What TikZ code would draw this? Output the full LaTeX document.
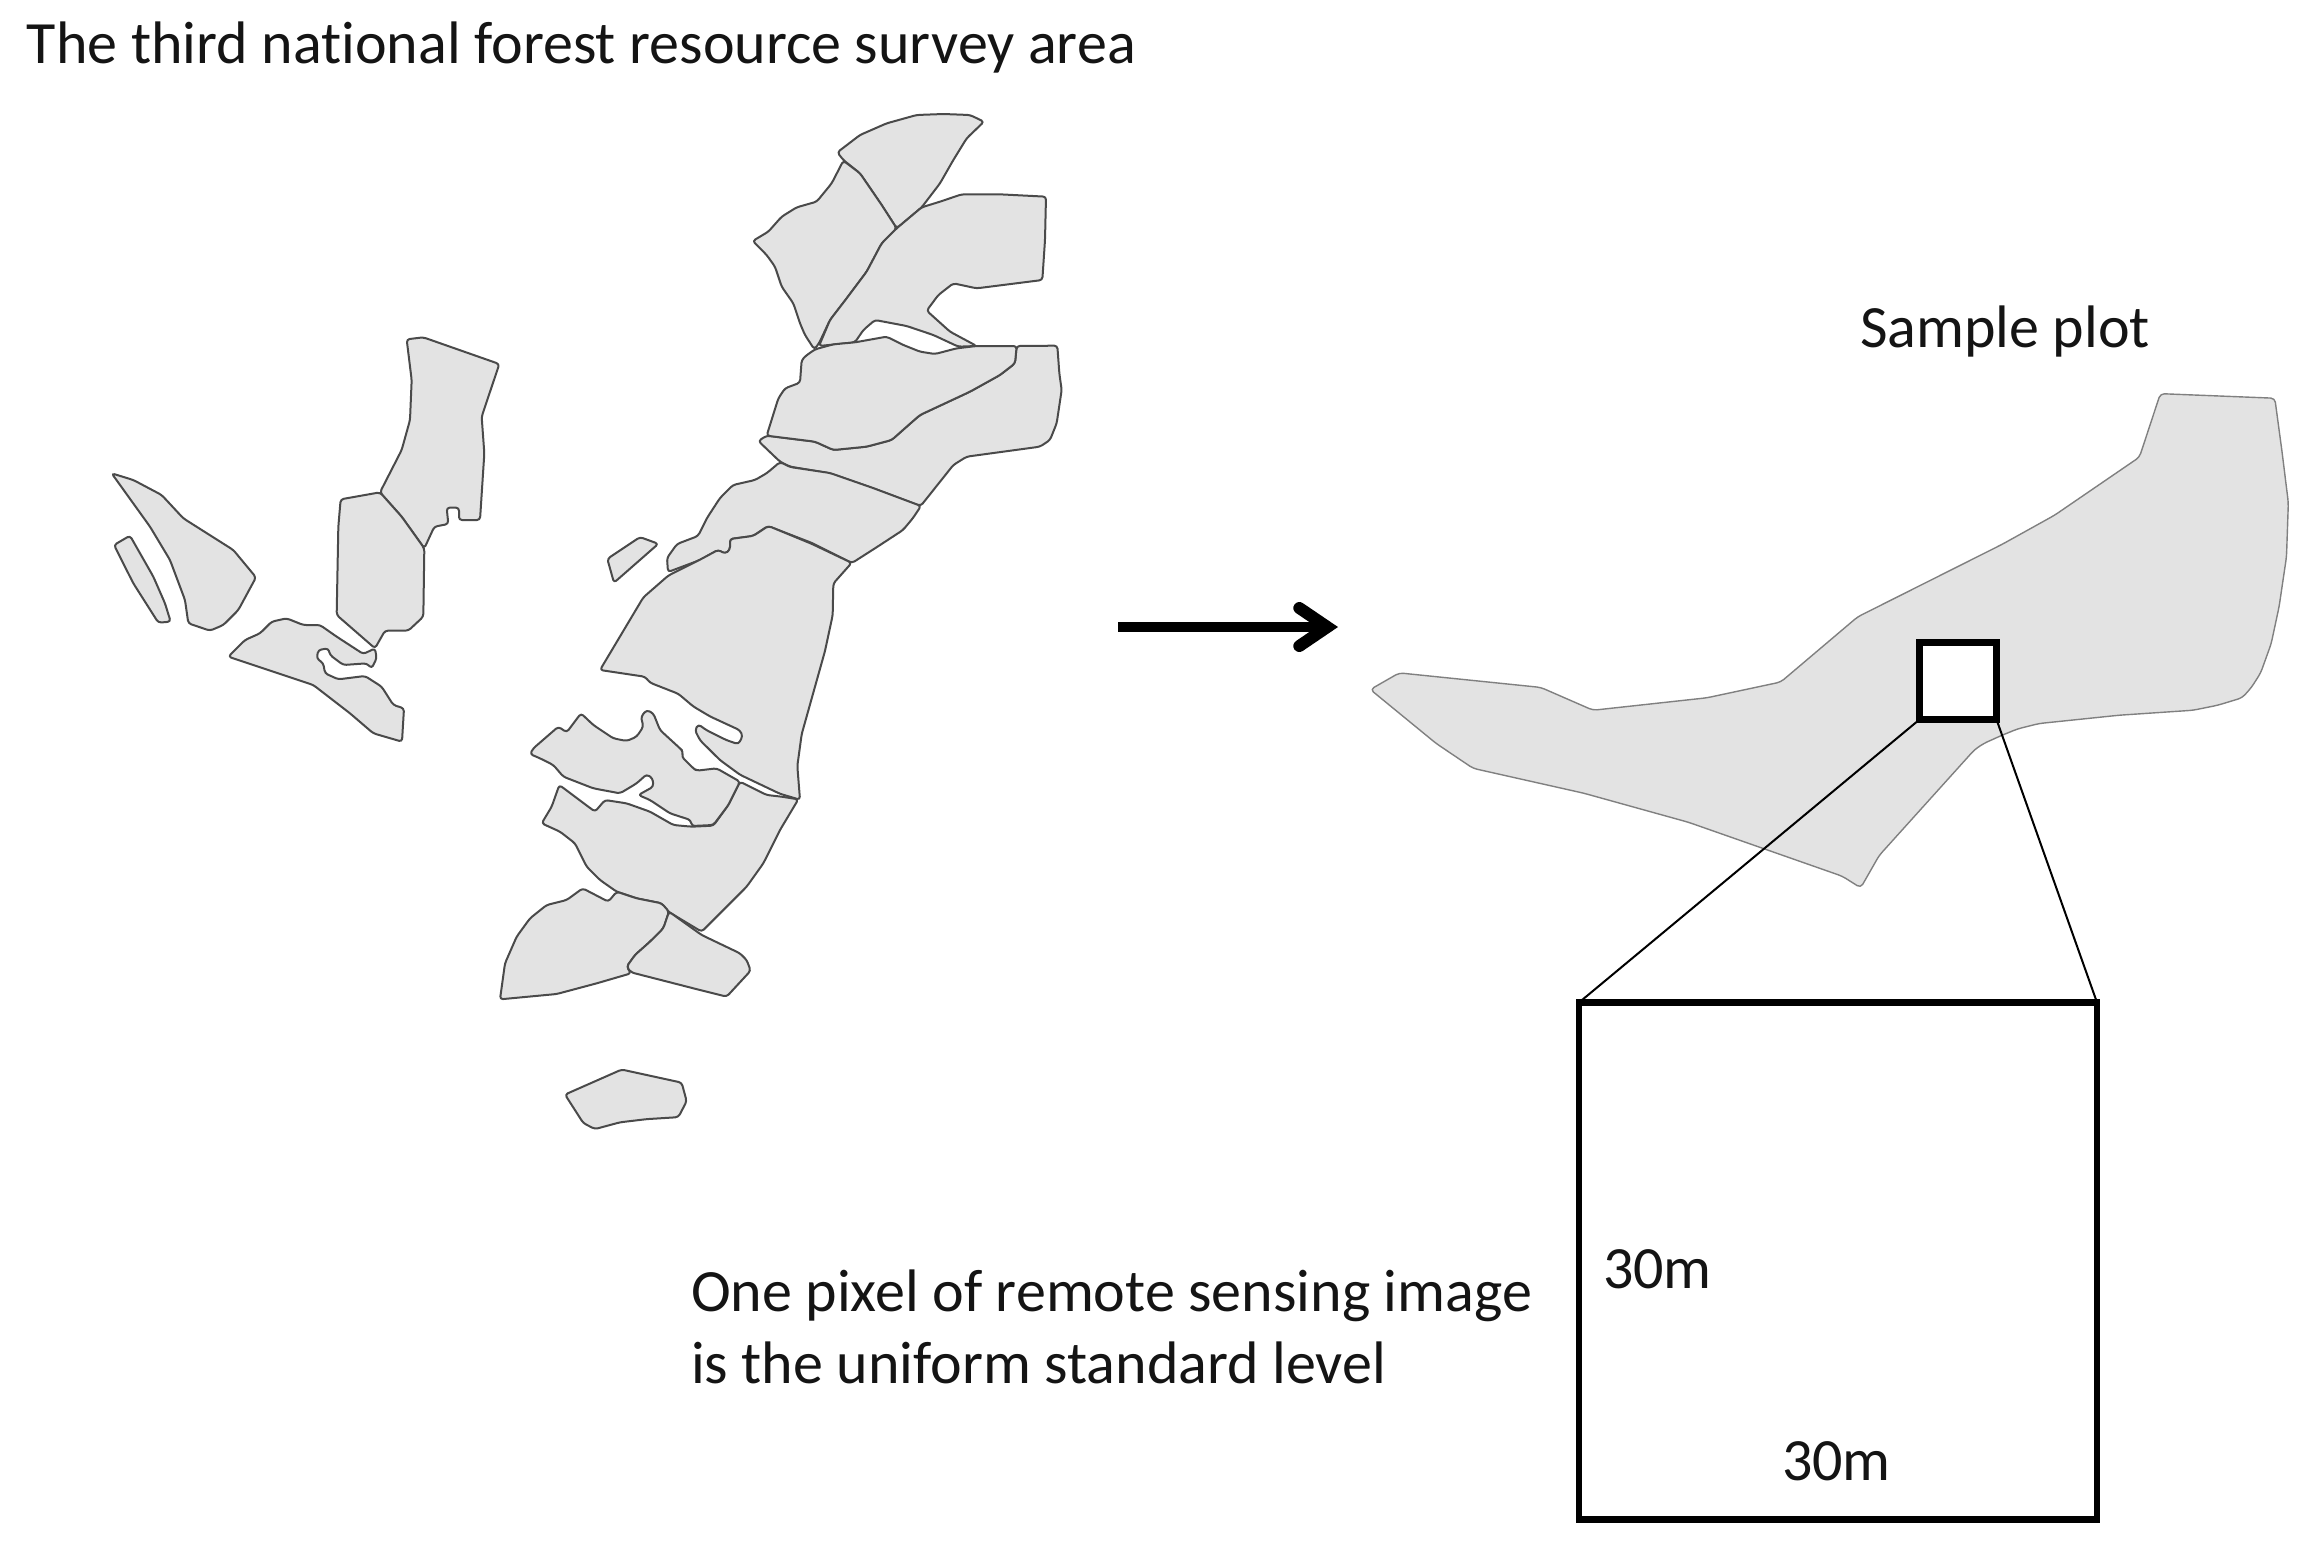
\documentclass[tikz,border=0pt]{standalone}
\usepackage{fontspec}
\setmainfont[Ligatures=NoCommon]{Carlito}
\usetikzlibrary{arrows.meta}
\definecolor{parcel}{HTML}{E3E3E3}
\definecolor{edgeline}{HTML}{4A4A4A}
\tikzset{
  piece/.style={fill=parcel,draw=edgeline,line width=2pt,line join=round,rounded corners=3pt},
  plotshape/.style={fill=parcel,draw=black!50,line width=1.4pt,line join=round,rounded corners=4pt},
  za/.style={xshift=700pt,yshift=-90pt,scale=1/3},
  zb/.style={xshift=550pt,yshift=-520pt,xscale=1/3,yscale=1/2.52},
  zc/.style={xshift=90pt,yshift=-320pt,scale=1/3},
  zd/.style={xshift=480pt,yshift=-680pt,scale=1/3},
  ze/.style={xshift=1350pt,yshift=-370pt,xscale=1/1.625,yscale=1/2.41},
  lbl/.style={anchor=base west,inner sep=0pt,outer sep=0pt,font=\fontsize{60}{72}\selectfont,text=black!92},
  pixelbox/.style={draw=black,fill=white,line width=#1,inner sep=0pt,outer sep=0pt,rectangle,line join=miter},
  zoomline/.style={draw=black,line width=2pt}
}
\begin{document}
\begin{tikzpicture}[x=1pt,y=-1pt]
\path[use as bounding box,fill=white] (0,0) rectangle (2315,1559);

% upper fan group
\begin{scope}[za]
\path[piece] (412,187)--(480,135)--(560,100)--(650,75)--(730,72)--(810,75)--(852,95)--(800,145)--(760,210)--(720,280)--(665,352)--(590,415)--(545,345)--(480,250)--(430,210)--cycle;
\path[piece] (430,212)--(480,250)--(545,345)--(590,415)--(545,460)--(500,545)--(440,625)--(390,690)--(357,760)--(343,778)--(315,735)--(300,700)--(280,640)--(245,590)--(225,530)--(200,495)--(158,453)--(205,425)--(245,380)--(290,352)--(350,335)--(395,280)--cycle;
\path[piece] (665,352)--(720,335)--(785,313)--(900,313)--(1038,320)--(1035,450)--(1027,570)--(830,595)--(760,580)--(715,615)--(680,662)--(750,725)--(830,768)--(775,770)--(700,735)--(620,708)--(525,690)--(490,720)--(465,757)--(357,768)--(390,690)--(440,625)--(500,545)--(545,460)--(590,415)--cycle;
\path[piece] (950,768)--(1072,767)--(1078,850)--(1085,900)--(1070,1000)--(1050,1050)--(1020,1070)--(800,1100)--(760,1125)--(662,1248)--(520,1195)--(390,1150)--(270,1130)--(240,1115)--(175,1053)--(200,1037)--(345,1055)--(400,1080)--(500,1070)--(575,1050)--(620,1010)--(660,975)--(810,905)--(900,855)--(945,820)--cycle;
\path[piece] (345,778)--(400,763)--(465,757)--(560,740)--(610,765)--(660,785)--(705,792)--(770,775)--(830,768)--(950,768)--(945,820)--(900,855)--(810,905)--(660,975)--(620,1010)--(575,1050)--(500,1070)--(400,1080)--(345,1055)--(200,1037)--(235,925)--(255,895)--(300,878)--(305,810)--(318,797)--cycle;
\end{scope}
\path[piece] (780,462)--(767,473)--(755,480)--(733,485)--(720,498)--(707,518)--(698,536)--(677,544)--(667,558)--(668,572)--(700,560)--(718,550)--(725,554)--(730,550)--(730,539)--(753,536)--(768,526)--(812,543)--(852,563)--(877,547)--(903,530)--(913,518)--(921,506)--(873,488)--(830,473)--(790,467)--cycle;

% central group
\begin{scope}[zb]
\path[piece] (172,98)--(270,43)--(325,60)--(192,158)--cycle;
\path[piece] (655,15)--(785,60)--(905,108)--(850,160)--(848,240)--(825,330)--(785,450)--(755,540)--(742,620)--(750,705)--(690,690)--(640,670)--(570,642)--(510,605)--(450,555)--(435,530)--(445,515)--(470,530)--(530,555)--(565,565)--(578,545)--(570,530)--(480,495)--(430,470)--(385,438)--(300,410)--(285,395)--(150,378)--(280,195)--(355,140)--(450,100)--(505,75)--(525,85)--(540,75)--(540,48)--(610,40)--cycle;
\path[piece] (45,1448)--(215,1385)--(395,1418)--(410,1465)--(385,1505)--(290,1510)--(210,1518)--(135,1535)--(100,1520)--cycle;
\end{scope}
\begin{scope}[zd]
\path[piece] (238,315)--(345,395)--(375,360)--(440,370)--(510,395)--(580,435)--(635,440)--(700,437)--(745,375)--(780,305)--(860,345)--(905,350)--(955,358)--(900,450)--(850,550)--(800,620)--(665,755)--(565,695)--(545,670)--(470,655)--(410,635)--(360,600)--(320,560)--(285,490)--(240,455)--(185,430)--(215,380)--cycle;
\path[piece] (150,222)--(160,205)--(235,140)--(260,157)--(303,100)--(340,135)--(400,175)--(440,183)--(470,170)--(490,140)--(483,110)--(500,90)--(520,100)--(540,150)--(600,205)--(610,215)--(605,230)--(640,265)--(650,272)--(710,265)--(780,305)--(745,375)--(700,435)--(635,438)--(632,420)--(570,400)--(510,360)--(475,345)--(520,320)--(518,295)--(500,283)--(470,310)--(420,340)--(340,325)--(250,290)--(220,255)--(180,235)--cycle;
\path[piece] (60,958)--(75,850)--(110,770)--(150,715)--(200,675)--(260,660)--(308,625)--(385,665)--(410,635)--(470,655)--(545,670)--(567,695)--(550,745)--(510,785)--(465,825)--(440,860)--(453,880)--(350,910)--(230,942)--cycle;
\path[piece] (567,695)--(665,765)--(780,820)--(800,840)--(812,872)--(740,950)--(660,930)--(453,877)--(440,860)--(465,825)--(510,785)--(550,745)--cycle;
\end{scope}

% left group
\begin{scope}[zc]
\path[piece] (65,460)--(130,480)--(215,525)--(280,595)--(430,690)--(498,772)--(445,870)--(400,915)--(360,932)--(295,910)--(285,840)--(240,720)--(180,620)--cycle;
\path[piece] (72,675)--(120,647)--(190,770)--(225,850)--(242,905)--(205,908)--(130,790)--cycle;
\path[piece] (950,58)--(1000,52)--(1228,132)--(1175,290)--(1183,400)--(1170,600)--(1107,600)--(1107,563)--(1070,563)--(1075,612)--(1033,620)--(1003,685)--(935,590)--(870,517)--(935,390)--(960,300)--(965,180)--cycle;
\path[piece] (752,538)--(870,517)--(935,590)--(1003,685)--(1000,890)--(955,932)--(885,932)--(855,985)--(740,885)--(745,620)--cycle;
\path[piece] (415,1010)--(465,960)--(510,940)--(545,905)--(590,895)--(640,915)--(690,915)--(740,950)--(820,1002)--(855,985)--(860,1015)--(845,1045)--(830,1030)--(760,1035)--(720,1005)--(715,985)--(685,990)--(680,1015)--(700,1030)--(705,1060)--(745,1078)--(825,1068)--(875,1100)--(910,1155)--(942,1165)--(936,1265)--(850,1240)--(780,1180)--(670,1095)--cycle;
\end{scope}

% sample plot
\begin{scope}[ze]
\path[plotshape] (33,770)--(80,730)--(310,765)--(395,820)--(580,790)--(700,752)--(825,595)--(1060,420)--(1145,350)--(1283,210)--(1317,57)--(1503,68)--(1515,200)--(1525,320)--(1522,450)--(1510,570)--(1497,660)--(1480,730)--(1465,765)--(1450,790)--(1410,808)--(1370,820)--(1250,832)--(1120,852)--(1085,865)--(1060,880)--(1030,900)--(1015,915)--(860,1170)--(830,1248)--(800,1220)--(550,1090)--(380,1020)--(200,960)--(140,900)--cycle;
\end{scope}

% arrow
\coordinate (arrowstart) at (1118,627);
\coordinate (arrowend) at (1338,627);
\draw[line width=10pt,-{Straight Barb[length=28pt,width=38pt,line width=12pt,line cap=round,line join=miter]}] (arrowstart) -- (arrowend);

% boxes and zoom lines
\node[pixelbox=7pt,minimum width=77pt,minimum height=77pt] (smallbox) at (1958,681) {};
\node[pixelbox=6.5pt,minimum width=518pt,minimum height=517pt] (bigbox) at (1838,1261) {};
\draw[zoomline] (smallbox.south west) -- (bigbox.north west);
\draw[zoomline] (smallbox.south east) -- (bigbox.north east);

% labels
\node[lbl] (title) at (27,63) {The third national forest resource survey area};
\node[lbl] (sample) at (1860,347) {Sample plot};
\node[lbl] (pixelone) at (691,1311) {One pixel of remote sensing image};
\node[lbl] (pixeltwo) at (691,1383) {is the uniform standard level};
\node[lbl] (sideleft) at (1603,1288) {30m};
\node[lbl] (sidebottom) at (1782,1480) {30m};
\end{tikzpicture}
\end{document}
